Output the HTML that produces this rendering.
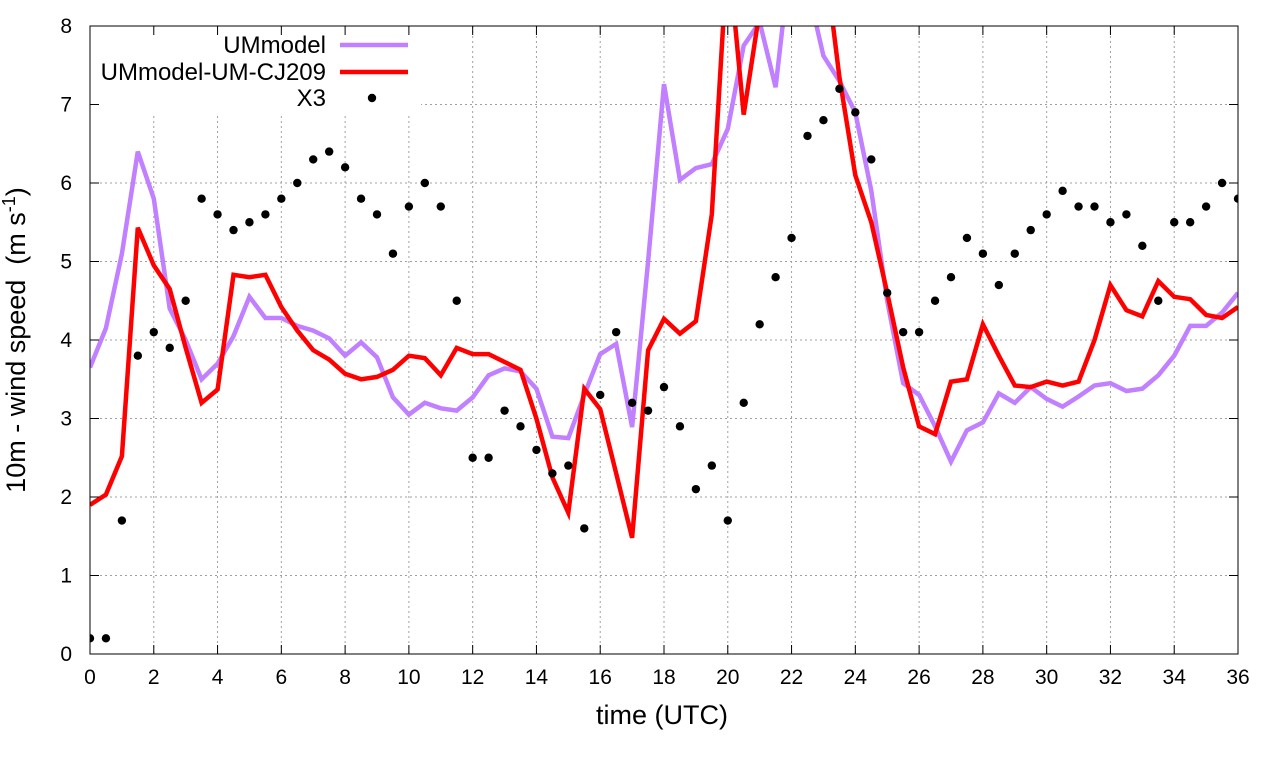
<!DOCTYPE html>
<html><head><meta charset="utf-8"><style>
html,body{margin:0;padding:0;background:#fff;}
svg{display:block;font-family:"Liberation Sans",sans-serif;}
</style></head><body>
<svg id="chart" width="1280" height="760" viewBox="0 0 1280 760" xmlns="http://www.w3.org/2000/svg">
<defs><clipPath id="plotclip"><rect x="90" y="26" width="1148" height="628"/></clipPath></defs>
<g id="grid"></g>
<g id="series" clip-path="url(#plotclip)"></g>
<g id="legend"></g>
<g id="axes"></g>
<text x="662" y="724" font-size="27" text-anchor="middle">time (UTC)</text>
<text transform="translate(25,340) rotate(-90)" font-size="27" text-anchor="middle" xml:space="preserve">10m - wind speed  (m s<tspan dy="-10" font-size="18">-1</tspan><tspan dy="10">)</tspan></text>
</svg>
<script>
const xTicks = [0,2,4,6,8,10,12,14,16,18,20,22,24,26,28,30,32,34,36];
const yTicks = [0,1,2,3,4,5,6,7,8];
const times = [];
for (let i = 0; i <= 72; i++) times.push(i / 2);
const umModel = [3.65,4.15,5.1,6.4,5.8,4.4,4.0,3.5,3.7,4.05,4.55,4.28,4.28,4.18,4.12,4.02,3.8,3.97,3.78,3.27,3.05,3.2,3.13,3.1,3.27,3.55,3.64,3.6,3.38,2.77,2.75,3.3,3.82,3.95,2.89,5.0,7.26,6.04,6.19,6.24,6.69,7.75,8.05,7.22,9.0,8.5,7.62,7.3,6.9,5.9,4.5,3.45,3.3,2.9,2.45,2.85,2.95,3.32,3.2,3.4,3.25,3.15,3.28,3.42,3.45,3.35,3.38,3.55,3.8,4.18,4.18,4.35,4.6];
const umCJ209 = [1.9,2.03,2.52,5.43,4.95,4.65,3.9,3.2,3.37,4.83,4.8,4.83,4.42,4.12,3.87,3.75,3.57,3.5,3.53,3.62,3.8,3.77,3.55,3.9,3.82,3.82,3.72,3.62,3.0,2.25,1.8,3.38,3.12,2.3,1.48,3.87,4.27,4.08,4.24,5.6,9.0,6.87,8.2,9.5,10,9.5,9.0,7.35,6.1,5.5,4.6,3.65,2.9,2.8,3.47,3.5,4.2,3.8,3.42,3.4,3.47,3.42,3.47,4.0,4.7,4.38,4.3,4.75,4.55,4.52,4.32,4.28,4.42];
const x3 = [0.2,0.2,1.7,3.8,4.1,3.9,4.5,5.8,5.6,5.4,5.5,5.6,5.8,6.0,6.3,6.4,6.2,5.8,5.6,5.1,5.7,6.0,5.7,4.5,2.5,2.5,3.1,2.9,2.6,2.3,2.4,1.6,3.3,4.1,3.2,3.1,3.4,2.9,2.1,2.4,1.7,3.2,4.2,4.8,5.3,6.6,6.8,7.2,6.9,6.3,4.6,4.1,4.1,4.5,4.8,5.3,5.1,4.7,5.1,5.4,5.6,5.9,5.7,5.7,5.5,5.6,5.2,4.5,5.5,5.5,5.7,6.0,5.8];

const NS = "http://www.w3.org/2000/svg";
const X0 = 90, X1 = 1238, Y0 = 654, Y1 = 26;
const xs = t => X0 + (t - 0) / 36 * (X1 - X0);
const ys = v => Y0 - (v - 0) / 8 * (Y0 - Y1);
function mk(tag, attrs, parent) {
  const e = document.createElementNS(NS, tag);
  for (const k in attrs) e.setAttribute(k, attrs[k]);
  parent.appendChild(e);
  return e;
}
const grid = document.getElementById('grid');
const axes = document.getElementById('axes');
const series = document.getElementById('series');
const legend = document.getElementById('legend');

xTicks.forEach(t => {
  const x = xs(t);
  if (t > 0 && t < 36) {
    const g = mk('line', {x1:x, y1:Y1, x2:x, y2:Y0, stroke:'#a0a0a0', 'stroke-width':1, 'stroke-dasharray':'2,3'}, grid);
    
    
  }
  mk('line', {x1:x, y1:Y0, x2:x, y2:Y0-9, stroke:'#000', 'stroke-width':1}, axes);
  mk('line', {x1:x, y1:Y1, x2:x, y2:Y1+9, stroke:'#000', 'stroke-width':1}, axes);
  const lb = mk('text', {x:x, y:Y0+30, 'font-size':21, 'text-anchor':'middle'}, axes);
  lb.textContent = t;
  
  
});
yTicks.forEach(v => {
  const y = ys(v);
  if (v > 0 && v < 8) {
    const g = mk('line', {x1:X0, y1:y, x2:X1, y2:y, stroke:'#a0a0a0', 'stroke-width':1, 'stroke-dasharray':'2,3'}, grid);
    
    
  }
  mk('line', {x1:X0, y1:y, x2:X0+9, y2:y, stroke:'#000', 'stroke-width':1}, axes);
  mk('line', {x1:X1, y1:y, x2:X1-9, y2:y, stroke:'#000', 'stroke-width':1}, axes);
  const lb = mk('text', {x:X0-18, y:y+7, 'font-size':21, 'text-anchor':'end'}, axes);
  lb.textContent = v;
  
  
});
const frame = mk('rect', {x:X0, y:Y1, width:X1-X0, height:Y0-Y1, fill:'none', stroke:'#000', 'stroke-width':1}, axes);



function drawLine(vals, color, name) {
  const pts = vals.map((v, i) => xs(times[i]).toFixed(1) + ',' + ys(v).toFixed(1)).join(' ');
  const p = mk('polyline', {points:pts, fill:'none', stroke:color, 'stroke-width':4.5, 'stroke-linejoin':'miter'}, series);
  
  
}
drawLine(umModel, '#c080ff', 'ummodel-line');
drawLine(umCJ209, '#ff0000', 'ummodel-um-cj209-line');
x3.forEach((v, i) => {
  const c = mk('circle', {cx:xs(times[i]), cy:ys(v), r:4.2, fill:'#000'}, series);
  
  
});

// legend
const lbg = mk('rect', {x:91, y:27, width:330, height:88, fill:'#fff'}, legend);


const entries = [['UMmodel', '#c080ff', 45, 'line'], ['UMmodel-UM-CJ209', '#ff0000', 72, 'line'], ['X3', '#000', 98, 'dot']];
entries.forEach(e => {
  const g = mk('g', {}, legend);
  
  
  const t = mk('text', {x:326, y:e[2]+8, 'font-size':24, 'text-anchor':'end'}, g);
  t.textContent = e[0];
  if (e[3] === 'line') mk('line', {x1:340, y1:e[2], x2:408, y2:e[2], stroke:e[1], 'stroke-width':4.5}, g);
  else mk('circle', {cx:372, cy:e[2], r:4.2, fill:'#000'}, g);
});
</script>
</body></html>
